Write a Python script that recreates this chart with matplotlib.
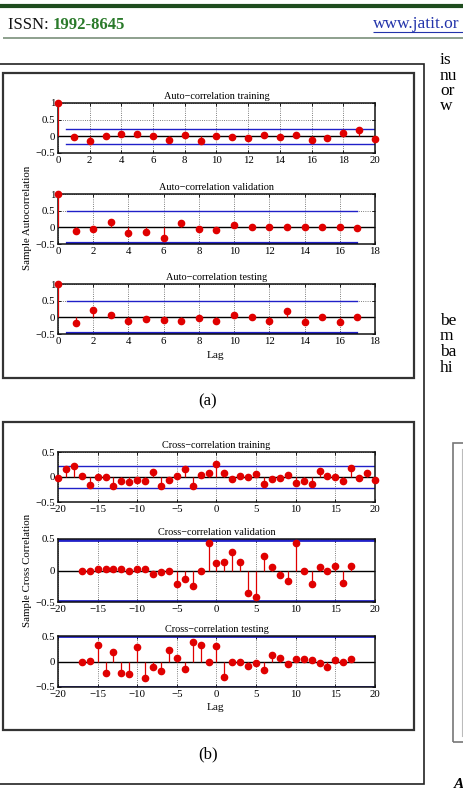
import numpy as np
import matplotlib
matplotlib.use("Agg")
import matplotlib.pyplot as plt
from matplotlib.lines import Line2D
from matplotlib.patches import Rectangle

plt.rcParams['font.family'] = ['Liberation Serif', 'DejaVu Serif']
plt.rcParams['axes.unicode_minus'] = True

# ---------------- data ----------------
auto_train_lags = list(range(0, 21))
auto_train = [1.0, -0.03, -0.15, 0.0, 0.06, 0.06, 0.02, -0.12, 0.03, -0.15, 0.0,
              -0.01, -0.06, 0.04, -0.03, 0.04, -0.11, -0.05, 0.09, 0.20, -0.08]
auto_val_lags = list(range(0, 18))
auto_val = [1.0, -0.11, -0.06, 0.15, -0.16, -0.15, -0.33, 0.14, -0.05, -0.09,
            0.06, 0.01, 0.0, 0.02, 0.01, 0.01, 0.01, -0.01]
auto_test_lags = list(range(0, 18))
auto_test = [1.0, -0.17, 0.23, 0.07, -0.10, -0.04, -0.09, -0.11, -0.03, -0.12,
             0.06, 0.02, -0.10, 0.18, -0.13, 0.0, -0.13, 0.02]

cross_train_lags = list(range(-20, 21))
cross_train = [-0.02, 0.16, 0.23, 0.03, -0.16, 0.0, 0.0, -0.18, -0.07, -0.09,
               -0.05, -0.08, 0.11, -0.17, -0.05, 0.02, 0.16, -0.17, 0.05, 0.09,
               0.27, 0.09, -0.03, 0.03, 0.0, 0.07, -0.13, -0.04, -0.02, 0.05,
               -0.11, -0.07, -0.13, 0.13, 0.03, 0.0, -0.07, 0.18, -0.02, 0.08, -0.06]
cross_val_lags = list(range(-17, 18))
cross_val = [0.0, 0.0, 0.02, 0.02, 0.03, 0.03, -0.01, 0.02, 0.03, -0.05,
             -0.02, -0.01, -0.22, -0.13, -0.25, -0.01, 0.43, 0.12, 0.13, 0.30,
             0.13, -0.36, -0.42, 0.23, 0.05, -0.07, -0.16, 0.44, 0.0, -0.21,
             0.06, -0.01, 0.07, -0.20, 0.07]
cross_test_lags = list(range(-17, 18))
cross_test = [0.0, 0.01, 0.32, -0.23, 0.18, -0.22, -0.25, 0.29, -0.32, -0.10,
              -0.19, 0.22, 0.06, -0.14, 0.39, 0.33, -0.01, 0.30, -0.30, -0.01,
              0.0, -0.09, -0.02, -0.17, 0.12, 0.06, -0.05, 0.05, 0.04, 0.02,
              -0.03, -0.10, 0.02, 0.0, 0.05]

auto_titles = ["Auto\u2212correlation training", "Auto\u2212correlation validation",
               "Auto\u2212correlation testing"]
cross_titles = ["Cross\u2212correlation training", "Cross\u2212correlation validation",
                "Cross\u2212correlation testing"]
auto_bounds = [0.22, 0.48, 0.48]
cross_bounds = [0.22, 0.485, 0.492]

# ---------------- figure ----------------
W, H = 464, 792
fig = plt.figure(figsize=(W / 100, H / 100), dpi=100)
fig.patch.set_facecolor('white')


def fx(x):
    return x / W


def fy(y):
    return 1 - y / H


def hline(x0, x1, y, color, lw):
    fig.add_artist(Line2D([fx(x0), fx(x1)], [fy(y), fy(y)], color=color, lw=lw,
                          transform=fig.transFigure, solid_capstyle='butt'))


def box(x0, y0, x1, y1, color='#222222', lw=1.3):
    fig.add_artist(Rectangle((fx(x0), fy(y1)), fx(x1) - fx(x0), fy(y0) - fy(y1),
                             fill=False, edgecolor=color, lw=lw,
                             transform=fig.transFigure))


def ax_at(x0, y0, x1, y1):
    return fig.add_axes([fx(x0), fy(y1), fx(x1) - fx(x0), fy(y0) - fy(y1)])


RED = '#e00000'
BLUE = '#2020c8'
FS_TICK = 7.8
FS_T = 7.4


def style(ax, xlim, xticks, ylim, yticks, title):
    ax.set_xlim(*xlim)
    ax.set_ylim(*ylim)
    ax.set_xticks(xticks)
    ax.set_yticks(yticks)
    ax.set_xticklabels([('%g' % v).replace('-', '\u2212') for v in xticks])
    ax.set_yticklabels([('%g' % v).replace('-', '\u2212') for v in yticks])
    ax.tick_params(direction='in', length=2.5, width=0.6, labelsize=FS_TICK,
                   top=True, right=True)
    ax.tick_params(axis='x', pad=2.5)
    ax.tick_params(axis='y', pad=2.0)
    ax.grid(True, linestyle=':', color='#555555', lw=0.6)
    for s in ax.spines.values():
        s.set_linewidth(1.1)
        s.set_color('#111111')
    ax.set_title(title, fontsize=FS_T, pad=3)


def stems(ax, lags, vals):
    ax.vlines(lags, 0, vals, color=RED, lw=0.9, zorder=3)
    ax.plot(lags, vals, 'o', ms=4.5, color=RED, mec=RED, zorder=4, clip_on=False)


# ---------------- page header ----------------
hline(0, W, 6, '#1f4d1f', 3)
fig.text(fx(8), fy(25), "ISSN: ", fontsize=12, va='center', ha='left', color='#111111')
fig.text(fx(53), fy(25), "1992-8645", fontsize=12, va='center', ha='left',
         color='#2a7a2a', fontweight='bold')
fig.text(fx(373), fy(24), "www.jatit.or", fontsize=12.5, va='center', ha='left',
         color='#2233aa')
hline(373, W, 32, '#2233aa', 0.8)
hline(3, W, 38, '#7a907a', 1.2)

# right column text fragments
for i, t in enumerate(["is", "nu", "or", "w"]):
    fig.text(fx(440), fy(60 + i * 15.5), t, fontsize=12.5, va='center', ha='left')
for i, t in enumerate(["be", "m", "ba", "hi"]):
    fig.text(fx(440), fy(321 + i * 15.5), t, fontsize=12.5, va='center', ha='left')
fig.text(fx(454), fy(784), "A", fontsize=11, va='center', ha='left',
         fontstyle='italic', fontweight='bold')
box(453, 443, 470, 742, color='#777777', lw=1.2)
fig.add_artist(Line2D([fx(462), fx(462)], [fy(449), fy(736)], color='#bbbbbb', lw=0.8,
                      transform=fig.transFigure))

# outer and inner boxes
box(-5, 64, 424, 784, color='#222222', lw=1.2)
box(3.5, 73, 414, 378, color='#333333', lw=1.6)
box(3.5, 422, 414, 730, color='#333333', lw=1.6)

# ---------------- auto-correlation panels ----------------
auto_rows = [(103, 153), (194, 244), (284, 334)]
auto_data = [(auto_train_lags, auto_train), (auto_val_lags, auto_val),
             (auto_test_lags, auto_test)]
for k, ((y0, y1), (lags, vals)) in enumerate(zip(auto_rows, auto_data)):
    ax = ax_at(58, y0, 375, y1)
    xmax = 20 if k == 0 else 18
    style(ax, (0, xmax), list(range(0, xmax + 1, 2)), (-0.5, 1), [-0.5, 0, 0.5, 1],
          auto_titles[k])
    ax.axhline(0, color='black', lw=1.0, zorder=2)
    bx = lags[-1]
    b = auto_bounds[k]
    ax.plot([0.5, bx], [b, b], color=BLUE, lw=1.0, zorder=2)
    ax.plot([0.5, bx], [-b, -b], color=BLUE, lw=1.6 if k else 1.0, zorder=2)
    stems(ax, lags, vals)

fig.text(fx(28), fy(218), "Sample Autocorrelation", rotation=90, fontsize=7.8,
         ha='center', va='center')
fig.text(fx(216), fy(355), "Lag", fontsize=8.2, ha='center', va='center')
fig.text(fx(208), fy(401), "(a)", fontsize=12, ha='center', va='center')

# ---------------- cross-correlation panels ----------------
cross_rows = [(452, 502), (539, 602), (636, 687)]
cross_data = [(cross_train_lags, cross_train), (cross_val_lags, cross_val),
              (cross_test_lags, cross_test)]
for k, ((y0, y1), (lags, vals)) in enumerate(zip(cross_rows, cross_data)):
    ax = ax_at(58, y0, 375, y1)
    style(ax, (-20, 20), list(range(-20, 21, 5)), (-0.5, 0.5), [-0.5, 0, 0.5],
          cross_titles[k])
    ax.axhline(0, color='black', lw=1.0, zorder=2)
    b = cross_bounds[k]
    ax.axhline(b, color=BLUE, lw=1.0 if k == 0 else 2.0, zorder=2)
    ax.axhline(-b, color=BLUE, lw=1.0 if k == 0 else 2.0, zorder=2)
    stems(ax, lags, vals)

fig.text(fx(28), fy(570), "Sample Cross Correlation", rotation=90, fontsize=7.8,
         ha='center', va='center')
fig.text(fx(216), fy(707), "Lag", fontsize=8.2, ha='center', va='center')
fig.text(fx(208), fy(754), "(b)", fontsize=12, ha='center', va='center')

fig.savefig("out.png", dpi=100)
